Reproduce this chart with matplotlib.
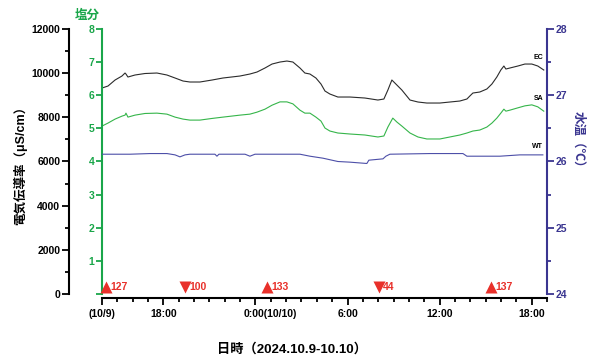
import numpy as np
import matplotlib.pyplot as plt
from matplotlib.ticker import MultipleLocator, FixedLocator

plt.rcParams['font.family'] = ['Liberation Sans', 'Noto Sans CJK JP']
plt.rcParams['font.weight'] = 'bold'

# 時刻は 10/9 0:00 からの経過時間 (h)
ec_t = [14.00, 14.39, 14.85, 15.30, 15.50, 15.56, 15.69, 16.15, 16.80, 17.58,
        18.23, 18.76, 19.28, 19.73, 20.38, 21.17, 21.88, 22.99, 23.64, 24.10,
        24.62, 25.08, 25.60, 26.05, 26.44, 26.90, 27.22, 27.55, 27.94, 28.27,
        28.53, 28.85, 29.37, 30.16, 31.13, 31.98, 32.37, 32.63, 32.89, 33.15,
        33.54, 34.07, 34.59, 35.17, 36.02, 36.67, 37.32, 37.78, 37.97, 38.17,
        38.62, 39.08, 39.41, 39.73, 39.99, 40.19, 40.32, 40.58, 41.10, 41.56,
        42.01, 42.40, 42.79]
ec = [9328, 9418, 9690, 9871, 10007, 9962, 9826, 9917, 9985, 10007,
      9917, 9781, 9645, 9600, 9600, 9690, 9781, 9871, 9962, 10052,
      10234, 10414, 10505, 10550, 10505, 10234, 10007, 9962, 9781, 9509,
      9192, 9056, 8920, 8920, 8875, 8784, 8830, 9237, 9690, 9509,
      9237, 8784, 8694, 8648, 8648, 8694, 8739, 8830, 8965, 9101,
      9147, 9283, 9509, 9826, 10143, 10324, 10188, 10234, 10324, 10414,
      10414, 10324, 10143]

sa_t = [14.00, 14.39, 14.85, 15.30, 15.50, 15.56, 15.69, 16.15, 16.80, 17.58,
        18.23, 18.76, 19.28, 19.73, 20.38, 21.17, 21.88, 22.99, 23.64, 24.10,
        24.62, 25.08, 25.60, 26.05, 26.44, 26.90, 27.22, 27.55, 27.94, 28.27,
        28.53, 28.85, 29.37, 30.16, 31.13, 31.98, 32.37, 32.63, 32.95, 33.22,
        33.54, 34.07, 34.59, 35.17, 36.02, 36.67, 37.32, 37.78, 38.17, 38.62,
        39.08, 39.41, 39.73, 39.99, 40.19, 40.32, 40.58, 41.10, 41.56, 42.01,
        42.40, 42.79]
sa = [5.07, 5.16, 5.28, 5.37, 5.40, 5.46, 5.34, 5.40, 5.45, 5.46,
      5.43, 5.34, 5.28, 5.25, 5.25, 5.30, 5.34, 5.40, 5.43, 5.49,
      5.58, 5.70, 5.80, 5.80, 5.74, 5.55, 5.46, 5.46, 5.34, 5.22,
      5.01, 4.92, 4.86, 4.83, 4.80, 4.74, 4.77, 5.04, 5.31, 5.19,
      5.07, 4.86, 4.74, 4.68, 4.68, 4.74, 4.80, 4.86, 4.92, 4.95,
      5.04, 5.16, 5.31, 5.46, 5.58, 5.52, 5.55, 5.62, 5.68, 5.71,
      5.65, 5.52]

wt_t = [14.00, 15.82, 17.13, 18.23, 18.76, 19.08, 19.41, 19.73, 20.71, 21.36,
        21.49, 21.62, 23.32, 23.64, 23.97, 26.90, 27.55, 28.40, 29.37, 30.16,
        31.26, 31.39, 32.31, 32.50, 32.76, 35.37, 37.52, 37.78, 39.93, 41.23,
        42.73]
wt = [26.11, 26.11, 26.12, 26.12, 26.10, 26.07, 26.10, 26.11, 26.11, 26.11,
      26.08, 26.11, 26.11, 26.08, 26.11, 26.11, 26.08, 26.05, 26.00, 25.99,
      25.97, 26.02, 26.04, 26.08, 26.11, 26.12, 26.12, 26.08, 26.08, 26.10,
      26.10]

# 潮位 (満潮▲ / 干潮▼)
tide_t = [14.29, 19.44, 24.76, 32.04, 39.36]
tide_kind = ['^', 'v', '^', 'v', '^']
tide_lbl = ['127', '100', '133', '44', '137']

xticks = [14, 18, 24, 30, 36, 42]
xlabels = ['(10/9)', '18:00', '', '6:00', '12:00', '18:00']

c_green = '#1aa64a'
c_sa = '#35b54a'
c_navy = '#3a3590'
c_wt = '#4d4fa8'
c_red = '#e8302a'

fig = plt.figure(figsize=(5.89, 3.56), dpi=100)
ax = fig.add_axes([0.1732, 0.1742, 0.7555, 0.7443])
ax_sa = ax.twinx()
ax_wt = ax.twinx()

# 電気伝導率
ax.plot(ec_t, ec, color='#2b2b2b', lw=0.8)
ax.set_ylim(0, 12000)
ax.set_xlim(14, 43)
ax.yaxis.set_major_locator(MultipleLocator(2000))
ax.yaxis.set_minor_locator(MultipleLocator(1000))
for s in ['top', 'right']:
    ax.spines[s].set_visible(False)
ax.spines['left'].set_position(('outward', 23.5))
ax.spines['left'].set_linewidth(1.5)
ax.spines['bottom'].set_position(('outward', 3))
ax.spines['bottom'].set_linewidth(1.5)
ax.tick_params(axis='y', which='major', length=5, width=1.3, labelsize=7.5, pad=1.5)
ax.tick_params(axis='y', which='minor', length=3, width=1.3)
ax.xaxis.set_major_locator(FixedLocator(xticks))
ax.xaxis.set_minor_locator(MultipleLocator(1))
ax.set_xticklabels(xlabels)
ax.tick_params(axis='x', which='major', length=5, width=1.3, labelsize=7.5, pad=3)
ax.tick_params(axis='x', which='minor', length=3, width=1.3)
# 0:00 の目盛ラベルは日付付きで左寄せ
ax.text(23.22, -0.074, '0:00(10/10)', transform=ax.get_xaxis_transform(),
        fontsize=7.5, ha='left', va='center')

# 塩分
ax_sa.plot(sa_t, sa, color=c_sa, lw=0.8)
ax_sa.set_ylim(0, 8)
for s in ['top', 'right', 'bottom']:
    ax_sa.spines[s].set_visible(False)
ax_sa.spines['left'].set_visible(True)
ax_sa.spines['left'].set_position(('axes', 0))
ax_sa.spines['left'].set_color(c_green)
ax_sa.spines['left'].set_linewidth(1.5)
ax_sa.yaxis.tick_left()
ax_sa.set_yticks(range(0, 9))
ax_sa.set_yticklabels([''] + [str(v) for v in range(1, 9)])
ax_sa.tick_params(axis='y', length=4, width=1.3, colors=c_green, labelsize=7.5, pad=1.5)

# 水温
ax_wt.plot(wt_t, wt, color=c_wt, lw=0.8)
ax_wt.set_ylim(24, 28)
for s in ['top', 'left', 'bottom']:
    ax_wt.spines[s].set_visible(False)
ax_wt.spines['right'].set_color(c_navy)
ax_wt.spines['right'].set_linewidth(1.5)
ax_wt.yaxis.set_major_locator(MultipleLocator(1))
ax_wt.yaxis.set_minor_locator(MultipleLocator(0.5))
ax_wt.tick_params(axis='y', which='major', length=5, width=1.3, colors=c_navy, labelsize=7.5, pad=1)
ax_wt.tick_params(axis='y', which='minor', length=3, width=1.3, colors=c_navy)

# 系列名
ax_wt.text(42.75, 27.57, 'EC', fontsize=5, ha='right', va='center')
ax_wt.text(42.75, 26.95, 'SA', fontsize=5, ha='right', va='center')
ax_wt.text(42.75, 26.22, 'WT', fontsize=5, ha='right', va='center')

# 潮位マーカー
trans = ax_wt.get_xaxis_transform()
for t, m, lb in zip(tide_t, tide_kind, tide_lbl):
    ax_wt.plot([t], [0.025], marker=m, ms=9, color=c_red, mec='none',
               transform=trans, clip_on=False)
    ax_wt.text(t + 0.28, 0.028, lb, color=c_red, fontsize=7.5, ha='left',
               va='center', transform=trans)

fig.text(20 / 589, 1 - 162 / 356, '電気伝導率（μS/cm）', rotation=90,
         ha='center', va='center', fontsize=9)
fig.text(87 / 589, 1 - 16 / 356, '塩分', color=c_green, ha='center',
         va='center', fontsize=9)
fig.text(578 / 589, 1 - 142 / 356, '水温（℃）', color=c_navy, rotation=270,
         ha='center', va='center', fontsize=9)
fig.text(292 / 589, 1 - 349 / 356, '日時（2024.10.9-10.10）', ha='center',
         va='center', fontsize=9.5)

fig.savefig('out.png', dpi=100)
